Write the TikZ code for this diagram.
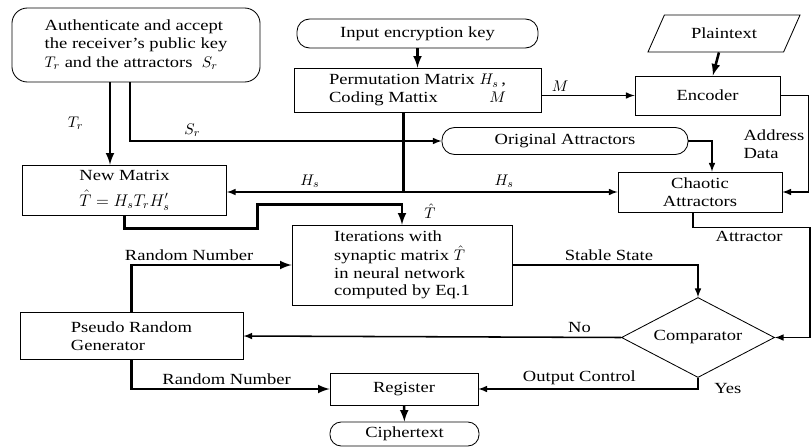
\documentclass[tikz,border=0pt]{standalone}
\usepackage{amsmath}
\usepackage{fontspec}
\setmainfont{Liberation Serif}[FakeStretch=1.2]
\usetikzlibrary{positioning,shapes.geometric,calc}
\tikzset{
  flow/.style={x=0.025cm,y=-0.025cm,>=latex,
    font=\fontsize{11}{12.5}\selectfont},
  blk/.style={rectangle,draw,line width=0.6pt,inner sep=2pt,align=center},
  term/.style={blk,rounded corners=9pt},
  wire/.style={line width=1.1pt},
  heavy/.style={line width=1.8pt},
  tag/.style={inner sep=2.5pt}
}
\begin{document}
\begin{tikzpicture}[flow]
  \useasboundingbox (0,0) rectangle (811,447);
  % blocks
  \node[term,rounded corners=11pt,minimum width=6.2cm,minimum height=1.85cm,align=left] (auth) at (136,45)
    {Authenticate and accept\\ the receiver's public key\\[1pt] $T_r$ and the attractors\ \ $S_r$};
  \node[term,minimum width=6.025cm,minimum height=0.725cm] (key) at (417.5,33.5) {Input encryption key};
  \node[blk,minimum width=6.175cm,minimum height=1.1cm] (perm) at (417.5,90)
    {\begin{tabular}{@{}l@{\ }r@{}}Permutation Matrix & $H_s$\,,\\ Coding Mattix & $M$\ \end{tabular}};
  \node[trapezium,trapezium left angle=51,trapezium right angle=129,trapezium stretches body,
    draw,line width=0.6pt,minimum width=3.8cm,minimum height=0.925cm] (plain) at (724,33.5) {Plaintext};
  \node[blk,minimum width=3.625cm,minimum height=0.975cm] (enc) at (707.5,95.5) {Encoder};
  \node[term,minimum width=6.15cm,minimum height=0.675cm] (orig) at (565,141) {Original Attractors};
  \node[blk,minimum width=4.1cm,minimum height=1cm] (chaos) at (700,192) {Chaotic\\ Attractors};
  \node[blk,minimum width=5.1cm,minimum height=1.25cm] (newm) at (124.5,190)
    {New Matrix\\[6pt] \large$\hat{T}=H_sT_rH'_s$};
  \node[blk,minimum width=5.5cm,minimum height=2cm,align=left] (iter) at (402,265)
    {Iterations with\\[1pt] synaptic matrix $\hat{T}$\\ in neural network\\ computed by Eq.1};
  \node[diamond,draw,line width=0.6pt,aspect=1.9,inner sep=0pt,minimum width=3.825cm,
    minimum height=2cm] (comp) at (698,337.5) {Comparator};
  \node[blk,minimum width=5.575cm,minimum height=1.175cm,align=left] (prg) at (131.5,336)
    {Pseudo Random\\ Generator};
  \node[blk,minimum width=3.7cm,minimum height=0.8cm] (reg) at (404,389) {Register};
  \node[term,rounded corners=8pt,minimum width=3.725cm,minimum height=0.6cm] (ciph) at (404.5,434) {Ciphertext};
  \node[tag,inner sep=0pt,align=left] (addr) at (774,144) {Address\\ Data};
  % helper points
  \coordinate (tsrc) at ($(auth.south)+(-26,0)$);
  \coordinate (ssrc) at ($(auth.south)+(-6,0)$);
  \coordinate (psrc) at ($(perm.south)+(-14,0)$);
  \coordinate (hj) at (psrc |- chaos.west);
  % connectors
  \draw[heavy,->] (key) -- (perm);
  \draw[heavy,->] (plain) -- (enc);
  \draw[wire,->] (perm.east |- enc.west) -- node[tag,above,pos=0.2]{$M$} (enc.west);
  \draw[wire,->] (enc.east) -- ++(28,0) |- (chaos.east);
  \draw[wire,->] (orig.east) -| ($(chaos.north)+(12,0)$);
  \draw[heavy,->] (tsrc) -- node[tag,left=0.55cm]{$T_r$} (tsrc |- newm.north);
  \draw[wire,->] (ssrc) |- node[tag,above,pos=0.6]{$S_r$} (orig.west);
  \draw[heavy] (psrc) -- (hj);
  \draw[wire,->] (hj) -- node[tag,above,pos=0.53]{$H_s$} (hj -| newm.east);
  \draw[wire,->] (hj) -- node[tag,above,pos=0.47]{$H_s$} (chaos.west);
  \draw[heavy,->] (newm.south) -- ++(0,13) -- ++(133,0) -- ++(0,-24) -| (iter.north);
  \node[inner sep=0pt] (that) at (430,211) {$\hat{T}$};
  \draw[wire,->] (iter.east) -| node[tag,above,pos=0.26]{Stable State} (comp.north);
  \draw[heavy,->] (prg.north) |- node[tag,above,pos=0.68]{Random Number} (iter.west);
  \draw[wire,->] ($(chaos.south)+(-7,0)$) -- ++(0,15)
    -| node[tag,below,pos=0.24]{Attractor} ($(comp.east)+(35,0)$) -- (comp.east);
  \draw[wire,->] (comp.west) -- node[tag,above,pos=0.11]{No} (prg.east);
  \draw[wire,->] (comp.south) |- node[tag,right=0.3cm,pos=0.5]{Yes}
    node[tag,above,pos=0.77]{Output Control} (reg.east);
  \draw[heavy,->] (prg.south) |- node[tag,above,pos=0.74]{Random Number} (reg.west);
  \draw[heavy,->] (reg) -- (ciph);
\end{tikzpicture}
\end{document}
